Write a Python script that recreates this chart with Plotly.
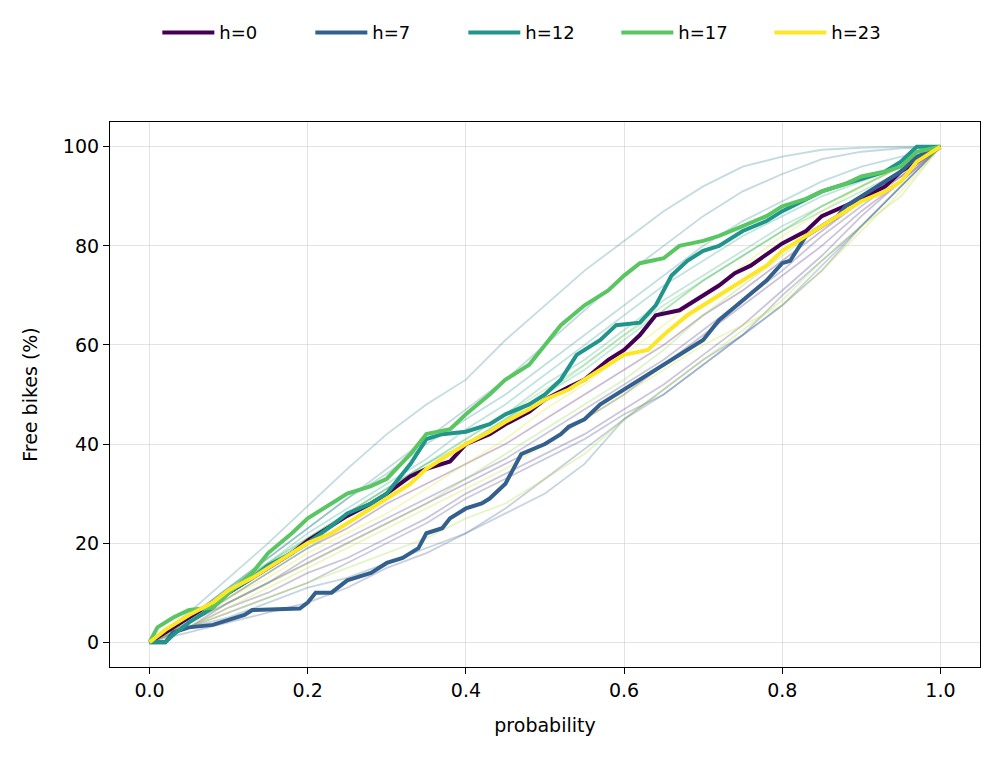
import plotly.graph_objects as go
from plotly.colors import sample_colorscale

# ---- highlighted hours (thick lines) ----
h0_x = [0, 0.02, 0.05, 0.08, 0.1, 0.13, 0.15, 0.18, 0.2, 0.23, 0.25, 0.28, 0.3, 0.33, 0.35, 0.38, 0.4, 0.43, 0.45, 0.48, 0.5, 0.53, 0.55, 0.58, 0.6, 0.62, 0.64, 0.67, 0.7, 0.72, 0.74, 0.76, 0.8, 0.83, 0.85, 0.88, 0.9, 0.93, 0.95, 0.97, 1.0]
h0_y = [0, 2, 5, 8, 10, 13, 15, 18, 20.5, 23.5, 25.5, 28, 30, 33.5, 35, 36.5, 40, 42, 44, 46.5, 49, 51.5, 53, 57, 59, 62, 66, 67, 70, 72, 74.5, 76, 80.5, 83, 86, 88, 89.5, 92, 95, 97, 100]

h7_x = [0, 0.02, 0.03, 0.05, 0.08, 0.1, 0.12, 0.13, 0.15, 0.19, 0.2, 0.21, 0.23, 0.25, 0.28, 0.3, 0.32, 0.34, 0.35, 0.37, 0.38, 0.4, 0.42, 0.43, 0.45, 0.46, 0.47, 0.5, 0.52, 0.53, 0.55, 0.57, 0.6, 0.62, 0.65, 0.67, 0.7, 0.72, 0.75, 0.78, 0.8, 0.81, 0.83, 0.85, 0.87, 0.88, 0.9, 0.92, 0.95, 0.97, 1.0]
h7_y = [0, 0, 2, 3, 3.5, 4.5, 5.5, 6.5, 6.6, 6.8, 8, 10, 10, 12.5, 14, 16, 17, 19, 22, 23, 25, 27, 28, 29, 32, 35, 38, 40, 42, 43.5, 45, 48, 51, 53, 56, 58, 61, 65, 69, 73, 76.5, 77, 82, 84, 86, 88, 90, 92, 95, 98, 100]

h12_x = [0, 0.02, 0.03, 0.05, 0.08, 0.1, 0.13, 0.15, 0.18, 0.2, 0.23, 0.25, 0.28, 0.3, 0.33, 0.35, 0.37, 0.4, 0.43, 0.45, 0.48, 0.5, 0.52, 0.54, 0.57, 0.59, 0.62, 0.64, 0.66, 0.68, 0.7, 0.72, 0.75, 0.78, 0.8, 0.83, 0.85, 0.88, 0.9, 0.93, 0.95, 0.97, 1.0]
h12_y = [0, 0, 1.5, 4, 7, 10, 13, 15.5, 18, 20, 23.5, 26, 28, 30, 36, 41, 42, 42.5, 44, 46, 48, 50, 53, 58, 61, 64, 64.5, 68, 74, 77, 79, 80, 83, 85, 87, 89.5, 91, 92.5, 93.5, 95, 97, 100, 100]

h17_x = [0, 0.01, 0.03, 0.05, 0.08, 0.1, 0.13, 0.15, 0.18, 0.2, 0.23, 0.25, 0.28, 0.3, 0.33, 0.35, 0.38, 0.4, 0.43, 0.45, 0.48, 0.5, 0.52, 0.55, 0.58, 0.6, 0.62, 0.65, 0.67, 0.7, 0.72, 0.75, 0.78, 0.8, 0.83, 0.85, 0.88, 0.9, 0.93, 0.95, 0.97, 1.0]
h17_y = [0, 3, 5, 6.5, 7, 10, 14, 18, 22, 25, 28, 30, 31.5, 33, 38, 42, 43, 46, 50, 53, 56, 60, 64, 68, 71, 74, 76.5, 77.5, 80, 81, 82, 84, 86, 88, 89.5, 91, 92.5, 94, 95, 96, 99, 100]

h23_x = [0, 0.02, 0.05, 0.08, 0.1, 0.13, 0.15, 0.18, 0.2, 0.23, 0.25, 0.28, 0.3, 0.33, 0.35, 0.38, 0.4, 0.43, 0.45, 0.48, 0.5, 0.53, 0.55, 0.57, 0.6, 0.63, 0.65, 0.68, 0.7, 0.73, 0.75, 0.78, 0.8, 0.83, 0.85, 0.88, 0.9, 0.93, 0.95, 0.97, 1.0]
h23_y = [0, 2.5, 5.5, 8, 10.5, 13, 15, 18, 20, 22, 24, 27, 29, 32, 35, 38, 40, 42.5, 44.5, 47, 49, 51, 53, 55, 58, 59, 62, 66, 68, 71, 73, 76, 79, 82, 84, 87, 89, 91, 93, 97, 100]

# ---- other hours (faint lines), sampled every 0.05 ----
faint_x = [0, 0.05, 0.1, 0.15, 0.2, 0.25, 0.3, 0.35, 0.4, 0.45, 0.5, 0.55, 0.6, 0.65, 0.7, 0.75, 0.8, 0.85, 0.9, 0.95, 1.0]
h1_y = [0, 4, 9, 14, 19, 23, 28, 32, 36, 40, 45, 50, 55, 60, 66, 71, 77, 83, 89, 94, 100]
h2_y = [0, 3, 8, 12, 16, 20, 24, 28, 32, 36, 40, 45, 50, 56, 62, 68, 74, 80, 87, 93, 100]
h3_y = [0, 3, 7, 10, 14, 17, 21, 25, 30, 34, 38, 42, 47, 52, 58, 64, 71, 78, 86, 93, 100]
h4_y = [0, 4, 8, 12, 17, 21, 25, 29, 33, 37, 42, 47, 52, 57, 63, 69, 75, 82, 88, 94, 100]
h5_y = [0, 3, 6, 9, 12, 16, 20, 24, 29, 33, 37, 41, 46, 50, 56, 62, 70, 77, 84, 92, 100]
h6_y = [0, 2, 4, 6, 8, 11, 15, 18, 22, 27, 33, 39, 45, 51, 57, 62, 68, 75, 84, 92, 100]
h8_y = [0, 3, 5, 8, 11, 13, 16, 19, 22, 26, 30, 36, 45, 50, 56, 62, 68, 76, 84, 92, 100]
h9_y = [0, 5, 11, 17, 23, 29, 35, 41, 47, 53, 60, 67, 74, 80, 86, 91, 94.5, 97.5, 99, 99.7, 100]
h10_y = [0, 6, 13, 20, 27.5, 35, 42, 48, 53, 61, 68, 75, 81, 87, 92, 96, 98, 99.4, 99.8, 100, 100]
h11_y = [0, 5, 11, 17, 23, 29, 34, 40, 45, 50, 56, 62, 68, 74, 80, 85, 89, 93, 96, 98, 100]
h13_y = [0, 5, 10, 16, 22, 27, 32, 37, 43, 48, 54, 60, 66, 72, 77, 82, 86, 90, 93, 96, 100]
h14_y = [0, 5, 10, 15, 21, 26, 31, 36, 41, 46, 52, 57, 63, 69, 74, 79, 84, 88, 92, 96, 100]
h15_y = [0, 5, 11, 16, 21, 26, 31, 36, 40, 45, 50, 55, 61, 67, 73, 78, 83, 87, 91, 95, 100]
h16_y = [0, 4, 9, 14, 19, 24, 30, 35, 40, 45, 50, 56, 62, 68, 73, 78, 83, 88, 92, 96, 100]
h18_y = [0, 5, 10, 16, 21, 26, 31, 36, 41, 46, 51, 56, 62, 67, 73, 78, 83, 88, 92, 96, 100]
h19_y = [0, 4, 8, 12, 16, 20, 24, 28, 33, 38, 43, 48, 53, 59, 66, 72, 78, 84, 89, 95, 100]
h20_y = [0, 3, 6, 9, 12, 15, 18, 21, 25, 28, 33, 38, 45, 51, 57, 63, 69, 77, 84, 90, 100]
h21_y = [0, 3, 7, 11, 15, 19, 23, 27, 31, 35, 40, 45, 50, 55, 60, 64, 68, 75, 83, 91, 100]
h22_y = [0, 4, 9, 13, 18, 22, 26, 31, 36, 41, 47, 52, 58, 64, 70, 76, 82, 87, 92, 96, 100]

faint = {1: h1_y, 2: h2_y, 3: h3_y, 4: h4_y, 5: h5_y, 6: h6_y, 8: h8_y, 9: h9_y,
         10: h10_y, 11: h11_y, 13: h13_y, 14: h14_y, 15: h15_y, 16: h16_y,
         18: h18_y, 19: h19_y, 20: h20_y, 21: h21_y, 22: h22_y}
main = [(0, h0_x, h0_y), (7, h7_x, h7_y), (12, h12_x, h12_y), (17, h17_x, h17_y), (23, h23_x, h23_y)]


def vcolor(h, alpha=1.0):
    c = sample_colorscale("Viridis", [h / 23])[0]
    if c.startswith("#"):
        r, g, b = int(c[1:3], 16), int(c[3:5], 16), int(c[5:7], 16)
    else:
        r, g, b = [int(float(v)) for v in c[c.index("(") + 1:c.index(")")].split(",")[:3]]
    return f"rgba({r},{g},{b},{alpha})"


fig = go.Figure()
for h, ys in faint.items():
    fig.add_trace(go.Scatter(x=faint_x, y=ys, mode="lines", showlegend=False,
                             line=dict(color=vcolor(h, 0.28), width=1.8), hoverinfo="skip"))
for h, xs, ys in main:
    fig.add_trace(go.Scatter(x=xs, y=ys, mode="lines", name=f"h={h}",
                             line=dict(color=vcolor(h), width=4)))

axis_common = dict(showline=True, linecolor="black", linewidth=1.2, mirror=True,
                   ticks="outside", ticklen=6, tickcolor="black", tickwidth=1.2,
                   showgrid=True, gridcolor="rgba(200,200,200,0.5)", gridwidth=1,
                   zeroline=False, tickfont=dict(size=19, color="black"))

fig.update_layout(
    width=989, height=749,
    margin=dict(l=102, r=17, t=114, b=90),
    paper_bgcolor="white", plot_bgcolor="white",
    font=dict(family="DejaVu Sans", color="black"),
    legend=dict(orientation="h", x=0.151, xanchor="left", xref="container",
                y=0.967, yanchor="middle", yref="container",
                font=dict(size=18), itemwidth=52, tracegroupgap=0,
                entrywidth=86, entrywidthmode="pixels"),
    xaxis=dict(range=[-0.05, 1.05], tickvals=[0, 0.2, 0.4, 0.6, 0.8, 1.0], tickformat=".1f",
               title=dict(text="probability", font=dict(size=19), standoff=18), **axis_common),
    yaxis=dict(range=[-5, 105], tickvals=[0, 20, 40, 60, 80, 100],
               title=dict(text="Free bikes (%)", font=dict(size=19), standoff=20), **axis_common),
)

fig.write_html("out.html")
